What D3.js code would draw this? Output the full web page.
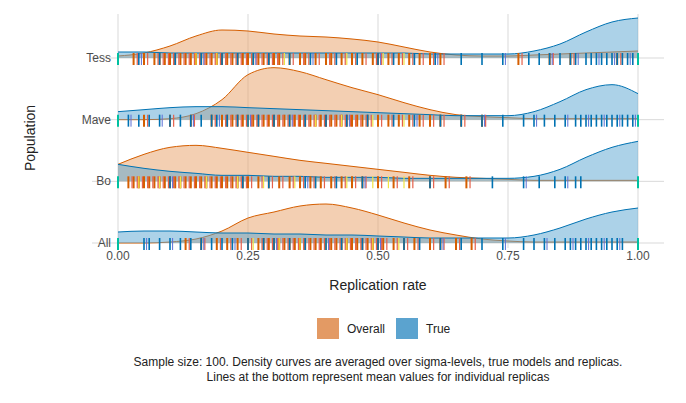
<!DOCTYPE html>
<html><head><meta charset="utf-8">
<script src="https://cdn.jsdelivr.net/npm/d3@7"></script>
<style>body{margin:0;background:#fff}text{font-family:"Liberation Sans",Arial,sans-serif}</style>
</head><body><svg></svg>
<script>
const populations = ["All", "Bo", "Mave", "Tess"];
const xTicks = [0, 0.25, 0.5, 0.75, 1];
const grid = d3.range(21).map(i => i / 20);

// density heights (approx) at grid points 0, 0.05, ... 1
const overallDensity = {
    Tess: [2, 5, 12, 22, 28, 27, 24, 22, 21, 19, 16, 11, 6, 3, 2, 2, 3, 4, 5, 6, 7],
    Mave: [0, 0, 1, 6, 20, 45, 52, 48, 40, 32, 25, 17, 10, 5, 3, 2, 1, 1, 1, 1, 1],
    Bo:   [17, 27, 34, 36, 33, 29, 25, 21, 18, 15, 12, 9, 6, 4, 3, 2, 1, 1, 1, 1, 1],
    All:  [0, 0, 1, 4, 12, 25, 31, 37, 39, 35, 28, 20, 13, 8, 4, 2, 1, 1, 1, 1, 1]
};
const trueDensity = {
    Tess: [6, 6, 5, 5, 5, 5, 5, 5, 5, 5, 5, 5, 4, 4, 4, 4, 7, 14, 26, 36, 40],
    Mave: [8, 10, 12, 13, 13, 12, 11, 10, 9, 8, 7, 6, 5, 4, 4, 4, 8, 18, 30, 35, 26],
    Bo:   [17, 13, 10, 8, 6, 6, 5, 5, 4, 4, 4, 3, 3, 3, 3, 3, 5, 12, 24, 34, 40],
    All:  [11, 12, 12, 11, 10, 10, 9, 9, 8, 8, 7, 6, 5, 5, 5, 5, 8, 15, 24, 31, 35]
};

// rug marks (mean values for individual replicas)
const overallRug = {
    Tess: [0.03,0.05,0.07,0.08,0.09,0.1,0.11,0.12,0.13,0.14,0.15,0.16,0.17,0.18,0.19,0.2,0.21,0.22,0.23,0.24,0.25,0.26,0.27,0.28,0.29,0.3,0.31,0.33,0.35,0.36,0.38,0.4,0.41,0.43,0.45,0.47,0.49,0.5,0.52,0.54,0.56,0.58,0.6,0.62,0.77,0.83,0.87,0.96],
    Mave: [0.05,0.1,0.14,0.18,0.2,0.21,0.22,0.23,0.24,0.25,0.26,0.27,0.28,0.29,0.3,0.31,0.32,0.33,0.34,0.35,0.36,0.37,0.38,0.39,0.4,0.41,0.42,0.43,0.44,0.45,0.46,0.47,0.48,0.5,0.52,0.54,0.56,0.58,0.6,0.62,0.66,0.7],
    Bo:   [0.02,0.03,0.04,0.05,0.06,0.07,0.08,0.09,0.1,0.11,0.12,0.13,0.14,0.15,0.16,0.17,0.18,0.19,0.2,0.21,0.22,0.23,0.24,0.25,0.27,0.29,0.31,0.33,0.35,0.37,0.39,0.41,0.43,0.45,0.47,0.5,0.53,0.56,0.6,0.63,0.67],
    All:  [0.13,0.16,0.19,0.21,0.23,0.25,0.27,0.28,0.29,0.3,0.31,0.32,0.33,0.34,0.35,0.36,0.37,0.38,0.39,0.4,0.41,0.42,0.43,0.44,0.45,0.46,0.47,0.48,0.49,0.5,0.51,0.53,0.55,0.57,0.6,0.62,0.65,0.68]
};
const yellowRug = {
    Tess: [0.15,0.19,0.26,0.32,0.37,0.44,0.46,0.51,0.55],
    Mave: [0.25,0.33,0.38,0.43,0.49,0.55],
    Bo:   [0.04,0.08,0.12,0.17,0.23,0.28,0.34,0.38,0.44,0.49,0.52,0.55],
    All:  [0.26,0.31,0.35,0.4,0.44,0.49,0.54]
};
const trueRug = {
    Tess: [0.04,0.08,0.11,0.16,0.2,0.23,0.26,0.29,0.33,0.37,0.42,0.46,0.5,0.53,0.57,0.61,0.66,0.7,0.74,0.79,0.81,0.83,0.85,0.87,0.88,0.9,0.91,0.92,0.93,0.94,0.95,0.96,0.97,0.98,0.99],
    Mave: [0.02,0.04,0.06,0.08,0.1,0.12,0.14,0.16,0.18,0.19,0.21,0.23,0.25,0.27,0.3,0.33,0.36,0.4,0.44,0.48,0.53,0.57,0.62,0.66,0.7,0.74,0.78,0.8,0.82,0.84,0.86,0.88,0.89,0.9,0.91,0.92,0.93,0.94,0.95,0.96,0.97,0.98,0.99],
    Bo:   [0.1,0.24,0.29,0.36,0.38,0.42,0.47,0.6,0.72,0.78,0.81,0.84,0.86,0.88,0.89],
    All:  [0.05,0.06,0.08,0.1,0.12,0.14,0.16,0.18,0.2,0.22,0.25,0.28,0.3,0.33,0.36,0.4,0.43,0.47,0.5,0.55,0.58,0.62,0.66,0.7,0.74,0.78,0.8,0.82,0.84,0.86,0.87,0.88,0.89,0.9,0.91,0.92,0.93,0.94,0.95,0.96,0.97]
};

const width = 686, height = 403;
const svg = d3.select("svg").attr("width", width).attr("height", height);

const x = d3.scaleLinear().domain([0, 1]).range([118, 638]);
const y = d3.scalePoint().domain(populations).range([243, 58]);
const h = d3.scaleLinear().domain([0, 10]).range([0, 10]);

// grid
svg.selectAll(".vg").data(xTicks).enter().append("line")
    .attr("x1", d => x(d)).attr("x2", d => x(d)).attr("y1", 14).attr("y2", 248)
    .attr("stroke", "#d9d9d9").attr("stroke-width", 1);
svg.selectAll(".hg").data(populations).enter().append("line")
    .attr("x1", 92).attr("x2", 664).attr("y1", d => y(d)).attr("y2", d => y(d))
    .attr("stroke", "#d9d9d9").attr("stroke-width", 1);

const series = [
    { data: overallDensity, fill: "#e8a066", stroke: "#d55e00" },
    { data: trueDensity, fill: "#5aa6d2", stroke: "#0072b2" }
];

// draw rows from top to bottom so lower rows overlap upper
["Tess", "Mave", "Bo", "All"].forEach(p => {
    const g = svg.append("g");
    const base = y(p);
    series.forEach(s => {
        const pts = grid.map((v, i) => [v, s.data[p][i]]);
        const area = d3.area().curve(d3.curveMonotoneX)
            .x(d => x(d[0])).y0(base).y1(d => base - h(d[1]));
        const line = d3.line().curve(d3.curveMonotoneX)
            .x(d => x(d[0])).y(d => base - h(d[1]));
        g.append("path").attr("d", area(pts)).attr("fill", s.fill).attr("fill-opacity", 0.5);
        g.append("path").attr("d", line(pts)).attr("fill", "none").attr("stroke", s.stroke).attr("stroke-width", 1);
    });
    const rug = (vals, color, w) => g.selectAll(null).data(vals).enter().append("line")
        .attr("x1", d => x(d)).attr("x2", d => x(d))
        .attr("y1", base - 5).attr("y2", base + 7)
        .attr("stroke", color).attr("stroke-width", w);
    rug(overallRug[p], "#d55e00", 2);
    rug(overallRug[p].map(v => v + 0.007), "#e5604a", 1.2);
    rug(yellowRug[p], "#f0e442", 1.2);
    rug(trueRug[p], "#0072b2", 1.6);
    rug(trueRug[p].filter((v, i) => i % 3 == 0).map(v => v + 0.005), "#5b6fd6", 1);
    rug([0, 1], "#00c0a0", 2);
});

// axes labels
svg.selectAll(".yl").data(populations).enter().append("text")
    .attr("x", 111).attr("y", d => y(d) + 4).attr("text-anchor", "end")
    .attr("font-size", 12).attr("fill", "#4d4d4d").text(d => d);
svg.selectAll(".xl").data(xTicks).enter().append("text")
    .attr("x", d => x(d)).attr("y", 260).attr("text-anchor", "middle")
    .attr("font-size", 12).attr("fill", "#4d4d4d").text(d3.format(".2f"));
svg.append("text").attr("x", x(0.5)).attr("y", 290).attr("text-anchor", "middle")
    .attr("font-size", 14).attr("fill", "#222").text("Replication rate");
svg.append("text").attr("transform", "translate(35,138) rotate(-90)").attr("text-anchor", "middle")
    .attr("font-size", 14).attr("fill", "#222").text("Population");

// legend
const legend = [{ k: "Overall", c: "#e39a64", x: 317 }, { k: "True", c: "#5ba3cf", x: 396 }];
legend.forEach(l => {
    svg.append("rect").attr("x", l.x).attr("y", 318).attr("width", 22).attr("height", 21).attr("fill", l.c);
    svg.append("text").attr("x", l.x + 30).attr("y", 333).attr("font-size", 12).attr("fill", "#222").text(l.k);
});

// caption
svg.append("text").attr("x", x(0.5)).attr("y", 366).attr("text-anchor", "middle").attr("font-size", 12).attr("fill", "#222")
    .text("Sample size: 100. Density curves are averaged over sigma-levels, true models and replicas.");
svg.append("text").attr("x", x(0.5)).attr("y", 381).attr("text-anchor", "middle").attr("font-size", 12).attr("fill", "#222")
    .text("Lines at the bottom represent mean values for individual replicas");
</script></body></html>
